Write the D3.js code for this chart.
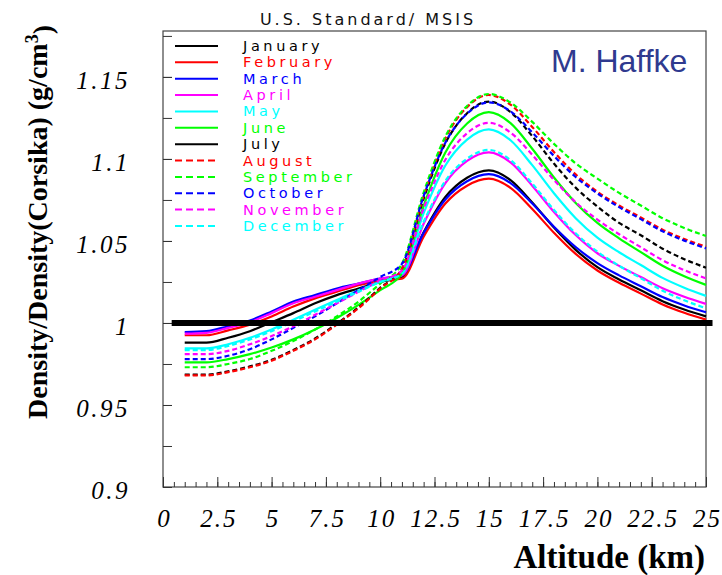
<!DOCTYPE html>
<html><head><meta charset="utf-8">
<script src="https://cdn.jsdelivr.net/npm/d3@7"></script>
<style>body{margin:0;background:#fff;}svg{display:block;}</style>
</head><body>
<svg id="c" width="722" height="575"></svg>
<script>
const altitudes = [1,2,3,4,5,6,7,8,9,10,11,12,13,14,15,16,17,18,19,20,21,22,23,24,25];
const monthNames = ["January","February","March","April","May","June","July","August","September","October","November","December"];
const monthColors = ["#000000","#ff0000","#0000ff","#ff00ff","#00ffff","#00ff00","#000000","#ff0000","#00ff00","#0000ff","#ff00ff","#00ffff"];
const curveDashed = [false,false,false,false,false,false,true,true,true,true,true,true];
const legendDashed = [false,false,false,false,false,false,false,true,true,true,true,true];

const january  = [0.988,0.988,0.991,0.995,1.0005,1.006,1.012,1.017,1.021,1.025,1.028,1.0553,1.0768,1.0885,1.093,1.0871,1.0735,1.0582,1.0446,1.034,1.0265,1.0199,1.0133,1.0082,1.004];
const february = [0.9925,0.9925,0.9955,0.999,1.004,1.010,1.015,1.019,1.023,1.026,1.027,1.0526,1.0728,1.0837,1.088,1.0824,1.0695,1.055,1.0421,1.032,1.0245,1.0179,1.0113,1.0062,1.002];
const march    = [0.9945,0.995,0.998,1.0015,1.007,1.013,1.017,1.021,1.024,1.027,1.029,1.0549,1.0753,1.0864,1.0907,1.0853,1.0728,1.0587,1.0463,1.0365,1.029,1.0224,1.0158,1.0107,1.0065];
const april    = [0.9935,0.994,0.997,1.0005,1.006,1.012,1.016,1.020,1.024,1.027,1.029,1.0605,1.0853,1.0988,1.104,1.0979,1.0837,1.0677,1.0536,1.0425,1.0348,1.028,1.0212,1.016,1.0116];
const may      = [0.9845,0.9845,0.987,0.991,0.996,1.002,1.008,1.014,1.020,1.025,1.030,1.067,1.096,1.1118,1.118,1.1114,1.0962,1.0791,1.0639,1.052,1.0431,1.0353,1.0275,1.0215,1.0165];
const june     = [0.976,0.976,0.978,0.981,0.985,0.990,0.996,1.003,1.011,1.020,1.030,1.0714,1.1039,1.1216,1.1285,1.1218,1.1062,1.0887,1.0732,1.061,1.0516,1.0432,1.0349,1.0285,1.0232];
const july     = [0.9685,0.9685,0.9705,0.9735,0.9775,0.9835,0.9905,0.9995,1.0095,1.0215,1.033,1.0758,1.1095,1.1279,1.135,1.1286,1.1139,1.0972,1.0825,1.071,1.061,1.0535,1.0453,1.0389,1.0337];
const august   = [0.968,0.968,0.970,0.973,0.977,0.983,0.990,0.999,1.009,1.021,1.033,1.0775,1.1125,1.1316,1.139,1.1331,1.1195,1.1042,1.0906,1.080,1.0716,1.0643,1.0569,1.0512,1.0465];
const september= [0.973,0.973,0.975,0.978,0.983,0.989,0.996,1.004,1.013,1.024,1.036,1.0795,1.1137,1.1323,1.1396,1.1344,1.1226,1.1092,1.0973,1.088,1.0793,1.0716,1.0639,1.0579,1.053];
const october  = [0.978,0.978,0.980,0.984,0.990,0.997,1.004,1.012,1.020,1.028,1.036,1.0774,1.1099,1.1276,1.1345,1.129,1.1162,1.1018,1.089,1.079,1.0706,1.0633,1.0559,1.0502,1.0455];
const november = [0.981,0.981,0.983,0.987,0.992,0.998,1.005,1.012,1.019,1.026,1.032,1.0698,1.0995,1.1157,1.122,1.1161,1.1025,1.0872,1.0736,1.063,1.0541,1.0462,1.0383,1.0322,1.0272];
const december = [0.9835,0.9835,0.986,0.990,0.995,1.001,1.007,1.013,1.019,1.025,1.030,1.0617,1.0866,1.1002,1.1055,1.0993,1.085,1.0689,1.0547,1.0435,1.0349,1.0273,1.0197,1.0138,1.009];
const seriesValues = [january,february,march,april,may,june,july,august,september,october,november,december];

const xTickValues = [0,2.5,5,7.5,10,12.5,15,17.5,20,22.5,25];
const xTickLabels = ["0","2.5","5","7.5","10","12.5","15","17.5","20","22.5","25"];
const yTickValues = [0.9,0.95,1,1.05,1.1,1.15];
const yTickLabels = ["0.9","0.95","1","1.05","1.1","1.15"];
const referenceLine = [0.4, 25.3, 1];

const svg = d3.select("#c");
const L = 163, R = 706, T = 31, B = 487;
const x = d3.scaleLinear().domain([0,25]).range([L,R]);
const y = d3.scaleLinear().domain([0.9,1.178]).range([B,T]);

// frame
svg.append("rect").attr("x",L).attr("y",T).attr("width",R-L).attr("height",B-T)
  .attr("fill","none").attr("stroke","#444").attr("stroke-width",1.2);

// x axis minor/major ticks (inward)
const xMinor = d3.range(0,25.01,0.5);
const gxMinor = svg.append("g").attr("transform",`translate(0,${B})`)
  .call(d3.axisBottom(x).tickValues(xMinor).tickSize(-5).tickFormat(""));
const gxMajor = svg.append("g").attr("transform",`translate(0,${B})`)
  .call(d3.axisBottom(x).tickValues(xTickValues).tickSize(-10).tickFormat((d,i)=>xTickLabels[i]).tickPadding(22));
[gxMinor,gxMajor].forEach(g=>{g.select(".domain").remove();g.selectAll("line").attr("stroke","#333");});
gxMajor.selectAll("text").attr("font-family","'Liberation Serif','Times New Roman',serif")
  .attr("font-style","italic").attr("font-size",25).attr("letter-spacing","2px")
  .attr("fill","#000").attr("dx","1");

// y axis ticks
const yMinor = d3.range(0.9,1.1751,0.025);
const gyMinor = svg.append("g").attr("transform",`translate(${L},0)`)
  .call(d3.axisLeft(y).tickValues(yMinor).tickSize(-9).tickFormat(""));
const gyMajor = svg.append("g").attr("transform",`translate(${L},0)`)
  .call(d3.axisLeft(y).tickValues(yTickValues).tickSize(-9).tickFormat((d,i)=>yTickLabels[i]).tickPadding(33));
[gyMinor,gyMajor].forEach(g=>{g.select(".domain").remove();g.selectAll("line").attr("stroke","#333");});
gyMajor.selectAll("text").attr("font-family","'Liberation Serif','Times New Roman',serif")
  .attr("font-style","italic").attr("font-size",25).attr("letter-spacing","2.5px")
  .attr("fill","#000").attr("dy","0.45em");

// curves
const line = d3.line().x((d,i)=>x(altitudes[i])).y(d=>y(d)).curve(d3.curveMonotoneX);
const gc = svg.append("g");
seriesValues.forEach((vals,k)=>{
  gc.append("path").attr("d",line(vals)).attr("fill","none")
    .attr("stroke",monthColors[k]).attr("stroke-width",2.2)
    .attr("stroke-dasharray",curveDashed[k]?"5,3":null);
});

// thick reference line at 1
svg.append("line").attr("x1",x(referenceLine[0])).attr("x2",x(referenceLine[1]))
  .attr("y1",y(referenceLine[2])).attr("y2",y(referenceLine[2]))
  .attr("stroke","#000").attr("stroke-width",6);

// legend
const lg = svg.append("g");
monthNames.forEach((m,k)=>{
  const yy = 46 + k*16.36;
  lg.append("line").attr("x1",175).attr("x2",218).attr("y1",yy).attr("y2",yy)
    .attr("stroke",monthColors[k]).attr("stroke-width",2)
    .attr("stroke-dasharray",legendDashed[k]?"7,4":null);
  lg.append("text").attr("x",243).attr("y",yy+5).text(m)
    .attr("font-family","'DejaVu Sans',sans-serif").attr("font-size",14.5)
    .attr("letter-spacing","3.6px").attr("fill",monthColors[k]);
});

// title
svg.append("text").attr("x",368).attr("y",25).attr("text-anchor","middle")
  .attr("font-family","'DejaVu Sans',sans-serif").attr("font-size",16).attr("letter-spacing","3px")
  .attr("fill","#111").text("U.S. Standard/ MSIS");

// author
svg.append("text").attr("x",551).attr("y",72)
  .attr("font-family","'Liberation Sans',Arial,sans-serif").attr("font-size",32)
  .attr("fill","#2f3a8f").text("M. Haffke");

// axis titles
svg.append("text").attr("x",705).attr("y",568).attr("text-anchor","end")
  .attr("font-family","'Liberation Serif','Times New Roman',serif").attr("font-weight","bold")
  .attr("font-size",33).attr("fill","#000").text("Altitude (km)");

const yt = svg.append("text").attr("transform","translate(47,222) rotate(-90)").attr("text-anchor","middle")
  .attr("font-family","'Liberation Serif','Times New Roman',serif").attr("font-weight","bold")
  .attr("font-size",28).attr("fill","#000");
yt.append("tspan").text("Density/Density(Corsika) (g/cm");
yt.append("tspan").attr("dy","-0.5em").attr("font-size",18).text("3");
yt.append("tspan").attr("dy","0.5em").text(")");
</script>
</body></html>
